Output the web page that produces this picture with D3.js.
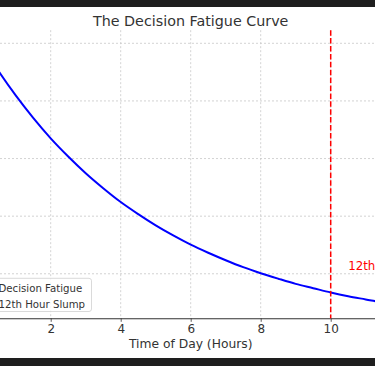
<!DOCTYPE html>
<html><head><meta charset="utf-8">
<script src="https://cdn.jsdelivr.net/npm/d3@7"></script>
<style>html,body{margin:0;padding:0;background:#fff;overflow:hidden}</style>
</head><body>
<svg id="c" width="375" height="366"></svg>
<script>
// Data
const hours = [0,0.5,1,1.5,2,2.5,3,3.5,4,4.5,5,5.5,6,6.5,7,7.5,8,8.5,9,9.5,10,10.5,11,11.5,12];
const fatigue = [100,90.5,81.9,74.1,67.0,60.7,54.9,49.7,44.9,40.7,36.8,33.3,30.1,27.3,24.7,22.3,20.2,18.3,16.5,15.0,13.5,12.2,11.1,10.0,9.1];
const xTicks = [2,4,6,8,10];
const yTicks = [20,40,60,80,100];
const slumpHour = [10];
const titleText = "The Decision Fatigue Curve";
const xLabel = "Time of Day (Hours)";
const seriesNames = ["Decision Fatigue","12th Hour Slump"];
const annotation = {x:10.5, y:20, text:"12th Hour Slump"};

const svg = d3.select("#c");
const font = "DejaVu Sans, sans-serif";
const txt = "#333";

const x = d3.scaleLinear().domain([-0.6,12.6]).range([-40.3,421.7]);
const y = d3.scaleLinear().domain([4.5466,104.55]).range([318.3,30.2]);

// grid
const g = svg.append("g");
g.selectAll("line.v").data(xTicks).join("line")
  .attr("x1",d=>x(d)).attr("x2",d=>x(d)).attr("y1",y.range()[1]).attr("y2",y.range()[0])
  .attr("stroke","#c8c8c8").attr("stroke-width",0.8).attr("stroke-dasharray","2,2");
g.selectAll("line.h").data(yTicks).join("line")
  .attr("x1",0).attr("x2",375).attr("y1",d=>y(d)).attr("y2",d=>y(d))
  .attr("stroke","#c8c8c8").attr("stroke-width",0.8).attr("stroke-dasharray","2,2");

// x axis
const xAxis = svg.append("g").attr("transform",`translate(0,${y.range()[0]})`)
  .call(d3.axisBottom(x).tickValues(xTicks).tickFormat(d3.format("d")).tickSize(3.5).tickPadding(3));
xAxis.select(".domain").attr("stroke","#333").attr("stroke-width",1.1);
xAxis.selectAll(".tick line").attr("stroke","#333").attr("stroke-width",0.8);
xAxis.selectAll(".tick text").attr("font-family",font).attr("font-size","12px").attr("fill",txt).attr("dy","0.71em");

// curve
svg.append("path").datum(hours.map((h,i)=>[h,fatigue[i]]))
  .attr("d", d3.line().x(d=>x(d[0])).y(d=>y(d[1])).curve(d3.curveMonotoneX))
  .attr("fill","none").attr("stroke","#0000ff").attr("stroke-width",2);

// vertical slump line
svg.selectAll("line.slump").data(slumpHour).join("line")
  .attr("x1",d=>x(d)).attr("x2",d=>x(d)).attr("y1",y.range()[1]).attr("y2",y.range()[0])
  .attr("stroke","#ff0000").attr("stroke-width",1.5).attr("stroke-dasharray","5.5,2.4");

// annotation
svg.append("text").attr("x",x(annotation.x)).attr("y",270.3)
  .attr("font-family",font).attr("font-size","11.8px").attr("fill","#ff0000").text(annotation.text);

// legend
const lg = svg.append("g");
lg.append("rect").attr("x",-35).attr("y",278.3).attr("width",126.5).attr("height",33.2)
  .attr("rx",2.5).attr("fill","#fff").attr("fill-opacity",0.8).attr("stroke","#d0d0d0").attr("stroke-width",0.8);
const rows = [{name:seriesNames[0],color:"#0000ff",dash:null,yb:292.2},{name:seriesNames[1],color:"#ff0000",dash:"5.5,2.4",yb:308.2}];
rows.forEach(r=>{
  lg.append("line").attr("x1",-31).attr("x2",-10).attr("y1",r.yb-3.6).attr("y2",r.yb-3.6)
    .attr("stroke",r.color).attr("stroke-width",r.dash?1.5:2).attr("stroke-dasharray",r.dash);
  lg.append("text").attr("x",-1.5).attr("y",r.yb).attr("font-family",font).attr("font-size","10.2px").attr("fill",txt).text(r.name);
});

// title and label
svg.append("text").attr("x",(x.range()[0]+x.range()[1])/2).attr("y",25.9).attr("text-anchor","middle")
  .attr("font-family",font).attr("font-size","14.3px").attr("fill",txt).text(titleText);
svg.append("text").attr("x",(x.range()[0]+x.range()[1])/2).attr("y",347.7).attr("text-anchor","middle")
  .attr("font-family",font).attr("font-size","12.3px").attr("fill",txt).text(xLabel);

// frame bars
svg.append("rect").attr("x",0).attr("y",0).attr("width",375).attr("height",7).attr("fill","#1e1e1e");
svg.append("rect").attr("x",0).attr("y",358).attr("width",375).attr("height",8).attr("fill","#1e1e1e");
</script>
</body></html>
